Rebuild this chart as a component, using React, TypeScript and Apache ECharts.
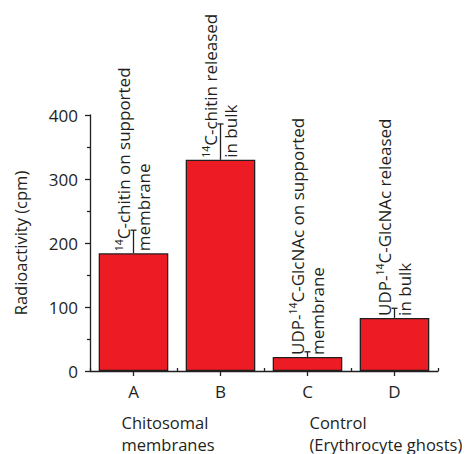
import React, { useEffect, useRef } from "react";
import * as echarts from "echarts";

const categories = ["A", "B", "C", "D"];
const values = [184, 330, 22, 83];
const errorTops = [220, 386, 30, 98];
const barLabelLine1 = [
  ["14", "C-chitin on supported"],
  ["14", "C-chitin released"],
  ["UDP-", "14", "C-GlcNAc on supported"],
  ["UDP-", "14", "C-GlcNAc released"],
];
const barLabelLine2 = ["membrane", "in bulk", "membrane", "in bulk"];
const groupLabels = [
  { text: "Chitosomal\nmembranes", cat: 0 },
  { text: "Control\n(Erythrocyte ghosts)", cat: 2 },
];
const yTicks = [0, 100, 200, 300, 400];

const FONT = "Open Sans";
const INK = "#231F20";

function buildLabel(parts: string[], line2: string): string {
  const l1 = parts
    .map((p) => (/^\d+$/.test(p) ? `{sup|${p}}` : `{t|${p}}`))
    .join("");
  return `${l1}\n{t|${line2}}`;
}

export default function App() {
  const ref = useRef<HTMLDivElement>(null);
  useEffect(() => {
    if (!ref.current) return;
    const chart = echarts.init(ref.current, null, { renderer: "svg" });
    const gridLeft = 90;
    const gridRight = 27;
    const gridTop = 115;
    const gridBottom = 83;
    const plotW = 465 - gridLeft - gridRight;
    const catW = plotW / categories.length;
    chart.setOption({
      animation: false,
      grid: { left: gridLeft, right: gridRight, top: gridTop, bottom: gridBottom },
      xAxis: [
        {
          type: "category",
          data: categories,
          boundaryGap: true,
          axisLine: { show: true, lineStyle: { color: INK, width: 1.3 } },
          axisTick: { show: true, alignWithLabel: true, length: 5, lineStyle: { color: INK, width: 1.3 } },
          axisLabel: { fontFamily: FONT, fontSize: 17, color: INK, margin: 12 },
        },
        {
          type: "category",
          data: categories,
          position: "bottom",
          offset: 0,
          boundaryGap: true,
          axisLine: { show: false },
          axisTick: { show: true, inside: true, length: 3, lineStyle: { color: INK, width: 1.3 } },
          axisLabel: { show: false },
        },
      ],
      yAxis: {
        type: "value",
        min: yTicks[0],
        max: yTicks[yTicks.length - 1],
        interval: 100,
        name: "Radioactivity (cpm)",
        nameLocation: "middle",
        nameGap: 61,
        nameTextStyle: { fontFamily: FONT, fontSize: 16.5, color: INK },
        axisLine: { show: true, lineStyle: { color: INK, width: 1.3 } },
        axisTick: { show: true, length: 5, lineStyle: { color: INK, width: 1.3 } },
        minorTick: { show: true, splitNumber: 2, length: 3, lineStyle: { color: INK, width: 1.3 } },
        splitLine: { show: false },
        axisLabel: { fontFamily: FONT, fontSize: 17, color: INK, margin: 12 },
      },
      series: [
        {
          type: "bar",
          barCategoryGap: "20%",
          data: values.map((v, i) => ({
            value: v,
            label: {
              show: true,
              position: "top",
              distance: 2,
              rotate: 90,
              align: "left",
              verticalAlign: "middle",
              formatter: buildLabel(barLabelLine1[i], barLabelLine2[i]),
              rich: {
                t: { fontFamily: FONT, fontSize: 17, color: INK, lineHeight: 20 },
                sup: { fontFamily: FONT, fontSize: 10.5, color: INK, lineHeight: 20, verticalAlign: "top", padding: [0, 0, 7, 0] },
              },
            },
          })),
          itemStyle: { color: "#ED1C24", borderColor: INK, borderWidth: 1.3 },
          z: 2,
        },
        {
          type: "custom",
          data: values.map((v, i) => [i, v, errorTops[i]]),
          z: 3,
          renderItem: (params: any, api: any) => {
            const p0 = api.coord([api.value(0), api.value(1)]);
            const p1 = api.coord([api.value(0), api.value(2)]);
            const cap = 3;
            return {
              type: "group",
              children: [
                { type: "line", shape: { x1: p0[0], y1: p0[1], x2: p1[0], y2: p1[1] }, style: { stroke: INK, lineWidth: 1.3 } },
                { type: "line", shape: { x1: p1[0] - cap, y1: p1[1], x2: p1[0] + cap, y2: p1[1] }, style: { stroke: INK, lineWidth: 1.3 } },
              ],
            };
          },
        },
      ],
      graphic: groupLabels.map((g, idx) => ({
        type: "text",
        left: gridLeft + catW * (g.cat + 0.5) - (idx === 0 ? 12 : -2),
        top: 411,
        style: {
          text: g.text,
          fontFamily: FONT,
          fontSize: 16.5,
          lineHeight: 22,
          fill: INK,
        },
      })),
    });
    return () => chart.dispose();
  }, []);
  return <div ref={ref} style={{ width: 465, height: 454, position: "absolute", left: 0, top: 0 }} />;
}
